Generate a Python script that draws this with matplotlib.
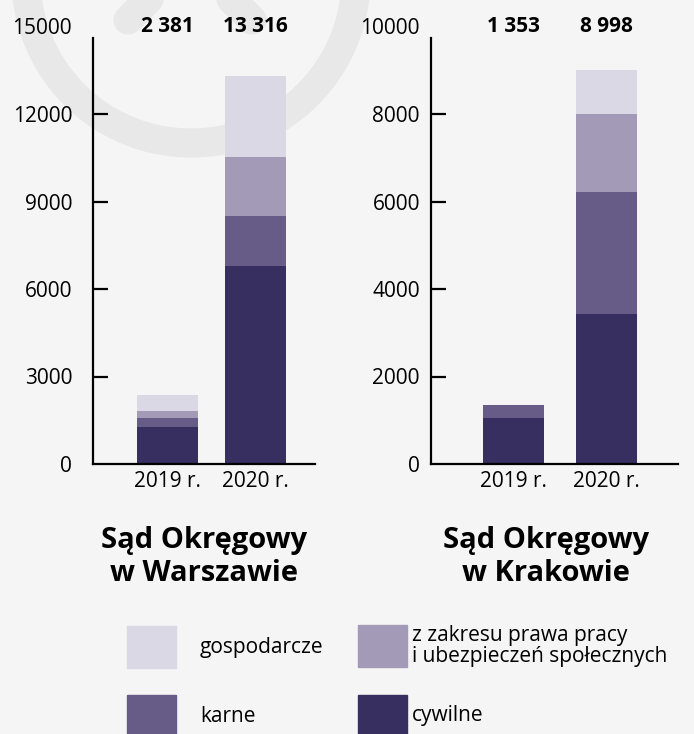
# Se importa numpy
import numpy as np

# Se importa modulo pyplot de matplotlib
import matplotlib.pyplot as plt
from matplotlib.patches import Rectangle, Circle

# Datos de la grafica
anios = ['2019 r.', '2020 r.']
categorias = ['cywilne', 'karne',
              'z zakresu prawa pracy\ni ubezpieczeń społecznych', 'gospodarcze']
colores = ['#372f5f', '#675b87', '#a39ab7', '#dbd8e5']

# Sad Okregowy w Warszawie (2019, 2020)
warszawa_cywilne = [1280, 6800]
warszawa_karne = [310, 1720]
warszawa_praca = [240, 2000]
warszawa_gospodarcze = [551, 2796]
warszawa_sumy = ['2 381', '13 316']

# Sad Okregowy w Krakowie (2019, 2020)
krakow_cywilne = [1050, 3430]
krakow_karne = [303, 2790]
krakow_praca = [0, 1790]
krakow_gospodarcze = [0, 988]
krakow_sumy = ['1 353', '8 998']

warszawa_ticks = [0, 3000, 6000, 9000, 12000, 15000]
krakow_ticks = [0, 2000, 4000, 6000, 8000, 10000]

plt.rcParams['font.family'] = ['Open Sans', 'DejaVu Sans']
fondo = '#f5f5f5'

fig = plt.figure(figsize=(6.94, 7.34), dpi=100, facecolor=fondo)

# Marca de agua (circulo gris claro)
ax_bg = fig.add_axes([0, 0, 1, 1], zorder=-1)
ax_bg.set_xlim(0, 694)
ax_bg.set_ylim(734, 0)
ax_bg.axis('off')
ax_bg.add_patch(Circle((191, -22), 165, fill=False, edgecolor='#e8e8e8', lw=21))
ax_bg.plot([128, 190, 252], [20, -42, 20], color='#e8e8e8', lw=21,
           solid_capstyle='round', solid_joinstyle='round')


def dibujar(ax, series, sumas, ticks, xlim, ancho, pad, tope):
    x = np.arange(len(anios))
    base = np.zeros(len(anios))
    for valores, color in zip(series, colores):
        ax.bar(x, valores, width=ancho, bottom=base, color=color, zorder=2)
        base = base + np.array(valores)
    ax.set_facecolor('none')
    ax.set_xlim(*xlim)
    ax.set_ylim(ticks[0], ticks[-1])
    ax.set_yticks(ticks)
    ax.set_xticks(x)
    ax.set_xticklabels(anios, fontsize=15)
    ax.tick_params(axis='y', direction='in', length=11, width=1.6,
                   labelsize=15, pad=pad)
    ax.tick_params(axis='x', length=0, pad=5)
    # Sin marca en 0 ni en el valor de arriba
    marcas = ax.yaxis.get_major_ticks()
    marcas[0].tick1line.set_visible(False)
    marcas[-1].tick1line.set_visible(False)
    for lado in ['top', 'right']:
        ax.spines[lado].set_visible(False)
    ax.spines['left'].set_linewidth(1.6)
    ax.spines['bottom'].set_linewidth(1.6)
    ax.spines['left'].set_bounds(0, tope)
    # Totales en negrita arriba
    for xi, s in zip(x, sumas):
        ax.text(xi, 1.0, s, transform=ax.get_xaxis_transform(),
                ha='center', va='center', fontsize=15, fontweight='bold')


ax1 = fig.add_axes([93 / 694, 1 - 464 / 734, 222 / 694, 437.5 / 734])
dibujar(ax1, [warszawa_cywilne, warszawa_karne, warszawa_praca, warszawa_gospodarcze],
        warszawa_sumy, warszawa_ticks, (-0.847, 1.676), 0.693, 15, 14600)

ax2 = fig.add_axes([431 / 694, 1 - 464 / 734, 247 / 694, 437.5 / 734])
dibujar(ax2, [krakow_cywilne, krakow_karne, krakow_praca, krakow_gospodarcze],
        krakow_sumy, krakow_ticks, (-0.887, 1.770), 0.656, 8, 9740)

# Titulos
fig.text(204 / 694, 1 - 557 / 734, 'Sąd Okręgowy\nw Warszawie', ha='center',
         va='center', fontsize=21, fontweight='bold', linespacing=1.2)
fig.text(546 / 694, 1 - 557 / 734, 'Sąd Okręgowy\nw Krakowie', ha='center',
         va='center', fontsize=21, fontweight='bold', linespacing=1.2)

# Leyenda hecha a mano
leyenda = [
    (colores[3], 'gospodarcze', 127, 200, 647),
    (colores[2], categorias[2], 358, 412, 646),
    (colores[1], 'karne', 127, 200, 716),
    (colores[0], 'cywilne', 358, 412, 716),
]
for color, texto, xc, xt, yc in leyenda:
    fig.add_artist(Rectangle((xc / 694, 1 - (yc + 21) / 734), 49 / 694, 42 / 734,
                             transform=fig.transFigure, color=color))
    fig.text(xt / 694, 1 - yc / 734, texto, ha='left', va='center',
             fontsize=15, linespacing=1.0)

fig.savefig('out.png', dpi=100, facecolor=fondo)
